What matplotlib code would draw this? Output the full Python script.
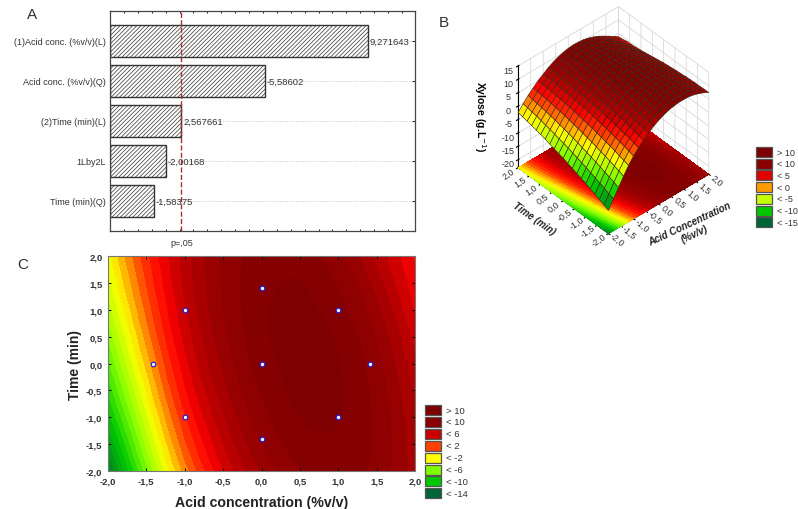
import numpy as np
import matplotlib
matplotlib.use('Agg')
import matplotlib.pyplot as plt
import matplotlib.patches as patches
from matplotlib.colors import LinearSegmentedColormap, Normalize
from mpl_toolkits.mplot3d import proj3d

plt.rcParams['font.family'] = ['Liberation Sans', 'DejaVu Sans']
plt.rcParams['hatch.linewidth'] = 0.5

# panel A
effects = ['(1)Acid conc. (%v/v)(L)', 'Acid conc. (%v/v)(Q)', '(2)Time (min)(L)', '1Lby2L', 'Time (min)(Q)']
effect_values = [9.271643, 5.58602, 2.567661, 2.00168, 1.58375]
effect_labels = ['9,271643', '-5,58602', '2,567661', '-2,00168', '-1,58375']
p_limit = 2.567

# panels B and C, response (rows are time, columns are acid)
grid_x = [-2.0, -1.8, -1.6, -1.4, -1.2, -1.0, -0.8, -0.6, -0.4, -0.2, 0.0, 0.2, 0.4, 0.6, 0.8, 1.0, 1.2, 1.4, 1.6, 1.8, 2.0]
grid_y = [-2.0, -1.8, -1.6, -1.4, -1.2, -1.0, -0.8, -0.6, -0.4, -0.2, 0.0, 0.2, 0.4, 0.6, 0.8, 1.0, 1.2, 1.4, 1.6, 1.8, 2.0]
xylose = [
    [-14.4, -11.2, -8.0, -4.9, -2.0, 0.4, 2.4, 4.1, 5.7, 7.0, 8.1, 9.0, 9.7, 10.1, 10.4, 10.4, 10.3, 9.9, 9.3, 8.5, 7.5],
    [-13.6, -10.5, -7.3, -4.2, -1.4, 1.0, 2.9, 4.6, 6.1, 7.4, 8.5, 9.3, 10.0, 10.4, 10.6, 10.6, 10.4, 10.0, 9.4, 8.5, 7.5],
    [-12.8, -9.7, -6.6, -3.6, -0.9, 1.5, 3.4, 5.0, 6.5, 7.7, 8.8, 9.6, 10.2, 10.6, 10.8, 10.8, 10.5, 10.1, 9.4, 8.5, 7.4],
    [-12.0, -9.0, -6.0, -3.0, -0.3, 2.0, 3.8, 5.4, 6.9, 8.1, 9.1, 9.9, 10.4, 10.8, 10.9, 10.9, 10.6, 10.1, 9.4, 8.5, 7.4],
    [-11.3, -8.3, -5.3, -2.4, 0.2, 2.4, 4.2, 5.8, 7.2, 8.4, 9.4, 10.1, 10.6, 11.0, 11.1, 11.0, 10.7, 10.1, 9.4, 8.4, 7.3],
    [-10.5, -7.6, -4.7, -1.9, 0.7, 2.8, 4.6, 6.2, 7.5, 8.7, 9.6, 10.3, 10.8, 11.1, 11.2, 11.0, 10.7, 10.1, 9.4, 8.4, 7.2],
    [-9.8, -6.9, -4.1, -1.3, 1.1, 3.3, 5.0, 6.5, 7.8, 8.9, 9.8, 10.5, 11.0, 11.2, 11.3, 11.1, 10.7, 10.1, 9.3, 8.3, 7.0],
    [-9.2, -6.3, -3.5, -0.8, 1.6, 3.6, 5.3, 6.8, 8.1, 9.2, 10.0, 10.7, 11.1, 11.3, 11.3, 11.1, 10.7, 10.1, 9.2, 8.1, 6.9],
    [-8.5, -5.7, -3.0, -0.4, 2.0, 4.0, 5.7, 7.1, 8.4, 9.4, 10.2, 10.8, 11.2, 11.4, 11.4, 11.1, 10.7, 10.0, 9.1, 8.0, 6.7],
    [-7.9, -5.1, -2.4, 0.1, 2.4, 4.3, 6.0, 7.4, 8.6, 9.6, 10.4, 10.9, 11.3, 11.4, 11.4, 11.1, 10.6, 9.9, 9.0, 7.8, 6.5],
    [-7.2, -4.5, -1.9, 0.5, 2.7, 4.6, 6.2, 7.6, 8.8, 9.8, 10.5, 11.0, 11.4, 11.5, 11.4, 11.0, 10.5, 9.8, 8.8, 7.6, 6.3],
    [-6.7, -4.0, -1.4, 0.9, 3.1, 4.9, 6.5, 7.8, 9.0, 9.9, 10.6, 11.1, 11.4, 11.5, 11.3, 11.0, 10.4, 9.6, 8.6, 7.4, 6.0],
    [-6.1, -3.5, -1.0, 1.3, 3.4, 5.2, 6.7, 8.0, 9.1, 10.0, 10.7, 11.2, 11.4, 11.4, 11.3, 10.9, 10.3, 9.5, 8.4, 7.2, 5.7],
    [-5.6, -3.0, -0.6, 1.7, 3.7, 5.4, 6.9, 8.2, 9.3, 10.1, 10.8, 11.2, 11.4, 11.4, 11.2, 10.8, 10.1, 9.3, 8.2, 6.9, 5.4],
    [-5.0, -2.5, -0.1, 2.0, 4.0, 5.7, 7.1, 8.3, 9.4, 10.2, 10.8, 11.2, 11.4, 11.3, 11.1, 10.6, 9.9, 9.1, 8.0, 6.6, 5.1],
    [-4.5, -2.1, 0.2, 2.3, 4.2, 5.8, 7.3, 8.5, 9.5, 10.2, 10.8, 11.2, 11.3, 11.2, 10.9, 10.4, 9.7, 8.8, 7.7, 6.3, 4.8],
    [-4.1, -1.6, 0.6, 2.6, 4.4, 6.0, 7.4, 8.6, 9.5, 10.3, 10.8, 11.1, 11.2, 11.1, 10.8, 10.3, 9.5, 8.6, 7.4, 6.0, 4.6],
    [-3.6, -1.2, 0.9, 2.9, 4.6, 6.2, 7.5, 8.6, 9.5, 10.3, 10.8, 11.0, 11.1, 11.0, 10.6, 10.0, 9.3, 8.3, 7.0, 5.7, 4.4],
    [-3.2, -0.9, 1.2, 3.1, 4.8, 6.3, 7.6, 8.7, 9.6, 10.2, 10.7, 10.9, 11.0, 10.8, 10.4, 9.8, 9.0, 7.9, 6.7, 5.4, 4.4],
    [-2.8, -0.5, 1.5, 3.3, 4.9, 6.4, 7.7, 8.7, 9.6, 10.2, 10.6, 10.8, 10.8, 10.6, 10.2, 9.5, 8.7, 7.6, 6.3, 5.2, 4.0],
    [-2.4, -0.2, 1.8, 3.5, 5.1, 6.4, 7.7, 8.7, 9.5, 10.1, 10.5, 10.7, 10.6, 10.4, 9.9, 9.2, 8.4, 7.3, 6.2, 5.0, 3.8],
]
design_x = [-1.0, 0.0, 1.0, -1.41, 0.0, 1.41, -1.0, 1.0, 0.0]
design_y = [1.0, 1.41, 1.0, 0.0, 0.0, 0.0, -1.0, -1.0, -1.41]
surface_pts_x = [-1.0, 0.0, 1.0]
surface_pts_y = [-1.0, 0.0, -1.0]
surface_pts_z = [2.8, 10.5, 11.0]

legend_b = ['> 10', '< 10', '< 5', '< 0', '< -5', '< -10', '< -15']
legend_b_cols = ['#7d0000', '#8a0000', '#e00000', '#ff9a00', '#c4ff00', '#00c800', '#006437']
legend_c = ['> 10', '< 10', '< 6', '< 2', '< -2', '< -6', '< -10', '< -14']
legend_c_cols = ['#7d0000', '#8a0000', '#c80000', '#ff4000', '#ffff00', '#80ff00', '#00c800', '#006437']

W, H = 798, 510
cmap = LinearSegmentedColormap.from_list('rsm', [
    (0.0, '#005f37'), (6 / 28, '#00c800'), (10 / 28, '#80ff00'), (14 / 28, '#ffff00'),
    (16 / 28, '#ffa000'), (18 / 28, '#ff4000'), (20 / 28, '#ff0000'), (21 / 28, '#e00000'), (22 / 28, '#c00000'),
    (24 / 28, '#a00000'), (26 / 28, '#8a0000'), (1.0, '#7a0000')])
norm = Normalize(-16, 12)
levels = np.arange(-16, 13, 1)


def px_axes(x0, y0, x1, y1, **kw):
    return fig.add_axes([x0 / W, 1 - y1 / H, (x1 - x0) / W, (y1 - y0) / H], **kw)


def draw_legend(labels, cols, x, y, step, size):
    for i, (lab, col) in enumerate(zip(labels, cols)):
        fig.add_artist(patches.Rectangle((x / W, 1 - (y + i * step + 10) / H), 16 / W, 10 / H, facecolor=col,
                                         edgecolor='#555555', linewidth=0.9, transform=fig.transFigure))
        fig.text((x + 21) / W, 1 - (y + i * step + 5) / H, lab, fontsize=size, va='center', color='#333333')


def floor_text(x, y, s, **kw):
    # Text3D ignores rotation, so project the spot and write it as 2D text
    x2, y2, _ = proj3d.proj_transform(x, y, floor, ax3.get_proj())
    ax3.text2D(x2, y2, s, transform=ax3.transData, ha='center', va='center', **kw)


fig = plt.figure(figsize=(W / 100, H / 100), dpi=100, facecolor='white')

# A
ax = px_axes(110, 12, 415, 232)
pos = np.arange(len(effects))
ax.hlines(pos, 0, 11, color='#bbbbbb', linewidth=0.6, linestyle=':', zorder=1)
ax.barh(pos, effect_values, height=0.8, facecolor='white', edgecolor='#333333', hatch='////////', linewidth=1, zorder=2)
ax.axvline(p_limit, color='#b03030', linestyle='--', linewidth=1, zorder=3)
for p, v, lab in zip(pos, effect_values, effect_labels):
    ax.text(v + 0.06, p, lab, fontsize=6.8, va='center', color='#333333', zorder=4)
ax.set_xlim(0, 10.97)
ax.set_ylim(4.75, -0.75)
ax.set_yticks(pos)
ax.set_yticklabels(effects, fontsize=6.5, color='#333333')
ax.set_xticks([p_limit])
ax.set_xticklabels(['p=,05'], fontsize=6.5, color='#333333')
ax.set_xticks(np.arange(0, 11, 0.5), minor=True)
ax.tick_params(axis='x', which='minor', direction='in', top=True, bottom=True, length=1.5, width=0.6)
ax.tick_params(axis='x', which='major', length=0, pad=5)
ax.tick_params(axis='y', length=2, width=0.6, pad=3, right=True, direction='in')
for s in ax.spines.values():
    s.set_color('#444444')
    s.set_linewidth(0.9)

# B
ax3 = fig.add_axes([455 / W, 1 - 252 / H, 310 / W, 255 / H], projection='3d', proj_type='ortho', facecolor='none')
X, Y = np.meshgrid(grid_x, grid_y)
Z = np.array(xylose)
floor = -23
ax3.contourf(X, Y, Z, levels=levels, cmap=cmap, norm=norm, zdir='z', offset=floor, extend='both')
cell_z = (Z[:-1, :-1] + Z[1:, :-1] + Z[:-1, 1:] + Z[1:, 1:]) / 4
ax3.plot_surface(X, Y, Z, facecolors=cmap(norm(cell_z)), edgecolor='#3a2415', linewidth=0.4, shade=False,
                 rstride=1, cstride=1, antialiased=True)
ax3.scatter(surface_pts_x, surface_pts_y, surface_pts_z, s=5, c='white', edgecolors='#2020e0', linewidths=0.6,
            depthshade=False)
ax3.view_init(elev=41, azim=-132)
ax3.set_xlim(-2, 2)
ax3.set_ylim(-2, 2)
ax3.set_zlim(floor, 15)
ax3.set_box_aspect((1, 1, 1.0), zoom=0.89)
t = [-2.0, -1.5, -1.0, -0.5, 0.0, 0.5, 1.0, 1.5, 2.0]
ax3.set_xticks(t)
ax3.set_yticks(t)
ax3.set_zticks([-20, -15, -10, -5, 0, 5, 10, 15])
ax3.set_xticklabels([])
ax3.set_yticklabels([])
ax3.set_zticklabels(['-20', '-15', '-10', '-5', '0', '5', '10', '15'], fontsize=6.5, color='#333333')
ax3.tick_params(axis='z', pad=-3, length=2)
for a in (ax3.xaxis, ax3.yaxis, ax3.zaxis):
    a.set_pane_color((1, 1, 1, 0))
    a.pane.set_edgecolor('#aaaaaa')
    a._axinfo['grid'].update(color='#d8d8d8', linewidth=0.6)
    a.set_rotate_label(False)
for v in t:
    lab = f'{v:.1f}'.replace('.', ',')
    floor_text(v, -2.37, lab, fontsize=6.5, rotation=-40, color='#333333')
    floor_text(-2.38, v, lab, fontsize=6.5, rotation=35, color='#333333')
floor_text(0, -3.5, 'Acid Concentration\n(%v/v)', fontsize=7, fontweight='bold', fontstyle='italic',
           rotation=25, color='#222222')
floor_text(-3.15, 0, 'Time (min)', fontsize=7, fontweight='bold', fontstyle='italic',
           rotation=-35, color='#222222')
ax3.set_zlabel('Xylose (g.L$^{-1}$)', fontsize=7.5, fontweight='bold', rotation=270, labelpad=-2)

# C
axc = px_axes(108, 257, 415, 472)
axc.contourf(grid_x, grid_y, Z, levels=levels, cmap=cmap, norm=norm, extend='both')
axc.scatter(design_x, design_y, s=11, c='white', edgecolors='#2020e0', linewidths=0.9, zorder=5)
axc.set_xlim(-2, 2)
axc.set_ylim(-2, 2)
axc.set_xticks(t)
axc.set_yticks(t)
axc.set_xticklabels([f'{v:.1f}'.replace('.', ',') for v in t], fontsize=6.8, fontweight='bold', color='#333333')
axc.set_yticklabels([f'{v:.1f}'.replace('.', ',') for v in t], fontsize=6.8, fontweight='bold', color='#333333')
axc.tick_params(length=2, width=0.7, direction='in', top=True, right=True, pad=4)
axc.set_xlabel('Acid concentration (%v/v)', fontsize=10.2, fontweight='bold', color='#222222', labelpad=7)
axc.set_ylabel('Time (min)', fontsize=10, fontweight='bold', color='#222222', labelpad=3)
for s in axc.spines.values():
    s.set_color('#777777')

draw_legend(legend_b, legend_b_cols, 756, 148, 11.7, 6.5)
draw_legend(legend_c, legend_c_cols, 425, 406, 11.9, 6.8)

fig.text(32 / W, 1 - 15 / H, 'A', fontsize=11, ha='center', va='center', color='#333333')
fig.text(444 / W, 1 - 23 / H, 'B', fontsize=11, ha='center', va='center', color='#333333')
fig.text(23 / W, 1 - 265 / H, 'C', fontsize=11, ha='center', va='center', color='#333333')

fig.savefig('out.png', dpi=100)
